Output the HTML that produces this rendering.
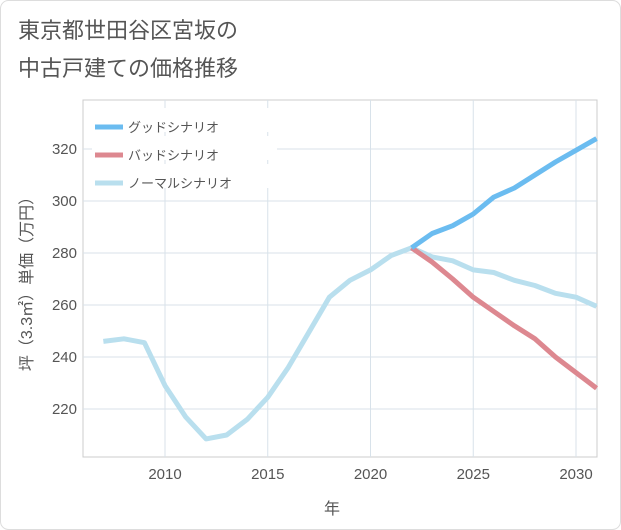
<!DOCTYPE html>
<html><head><meta charset="utf-8"><style>
body{margin:0;background:#fff;}
svg{display:block;font-family:"Liberation Sans","Noto Sans CJK JP",sans-serif;}
</style></head><body>
<svg width="621" height="530" viewBox="0 0 621 530">
<rect x="0.5" y="0.5" width="620" height="529" rx="8" fill="#fff" stroke="#ddd"/>
<text x="18" y="38" font-size="22" fill="#555">東京都世田谷区宮坂の</text>
<text x="18" y="76" font-size="22" fill="#555">中古戸建ての価格推移</text>
<g id="plot"></g>
<text x="332" y="514" font-size="16" fill="#555" text-anchor="middle">年</text>
<text transform="translate(32,280) rotate(-90)" font-size="16" fill="#555" text-anchor="middle">坪（3.3㎡）単価（万円）</text>
</svg>
<script>
const years=[2007,2008,2009,2010,2011,2012,2013,2014,2015,2016,2017,2018,2019,2020,2021,2022,2023,2024,2025,2026,2027,2028,2029,2030,2031];
const normal=[246,247,245.5,229,217,208.5,210,216,224.5,236,249.5,263,269.5,273.5,279,282,278.5,277,273.5,272.5,269.5,267.5,264.5,263,259.5];
const goodYears=[2022,2023,2024,2025,2026,2027,2028,2029,2030,2031];
const good=[282,287.5,290.5,295,301.5,305,310,315,319.5,324];
const bad=[282,276.5,270,263,257.5,252,247,240,234,228];
const xTicks=[2010,2015,2020,2025,2030];
const yTicks=[220,240,260,280,300,320];
const legend=["グッドシナリオ","バッドシナリオ","ノーマルシナリオ"];
const colors=["#6bbcf0","#dd8890","#b9dfee"];
const L=83,R=597,T=100,B=457;
const x=v=>165+(v-2010)*20.55;
const y=v=>149+(320-v)*2.6;
const ns="http://www.w3.org/2000/svg";
const g=document.getElementById('plot');
function mk(t,a){const e=document.createElementNS(ns,t);for(const k in a)e.setAttribute(k,a[k]);g.appendChild(e);return e;}
let e=mk('rect',{x:L,y:T,width:R-L,height:B-T,fill:'#fff',stroke:'#ccc'});


xTicks.forEach(v=>{let l=mk('line',{x1:x(v),x2:x(v),y1:T,y2:B,stroke:'#d8e2ea'});


let t=mk('text',{x:x(v),y:B+22,'font-size':15,fill:'#555','text-anchor':'middle'});t.textContent=v;

});
yTicks.forEach(v=>{let l=mk('line',{x1:L,x2:R,y1:y(v),y2:y(v),stroke:'#d8e2ea'});


let t=mk('text',{x:L-6,y:y(v)+5,'font-size':15,fill:'#555','text-anchor':'end'});t.textContent=v;

});
function line(xs,vs,c,name){let p=mk('polyline',{points:xs.map((v,i)=>x(v)+','+y(vs[i])).join(' '),fill:'none',stroke:c,'stroke-width':5,'stroke-linejoin':'round'});

}
line(years,normal,colors[2],'normal-line');
line(goodYears,bad,colors[1],'bad-line');
line(goodYears,good,colors[0],'good-line');
legend.forEach((s,i)=>{let yy=127+i*28;
let r=mk('rect',{x:92,y:108+i*28,width:185,height:24,fill:'#fff'});


let l=mk('line',{x1:95,x2:123,y1:yy,y2:yy,stroke:colors[i],'stroke-width':5});


let t=mk('text',{x:128,y:yy+5,'font-size':13,fill:'#555'});t.textContent=s;

});
</script>
</body></html>
